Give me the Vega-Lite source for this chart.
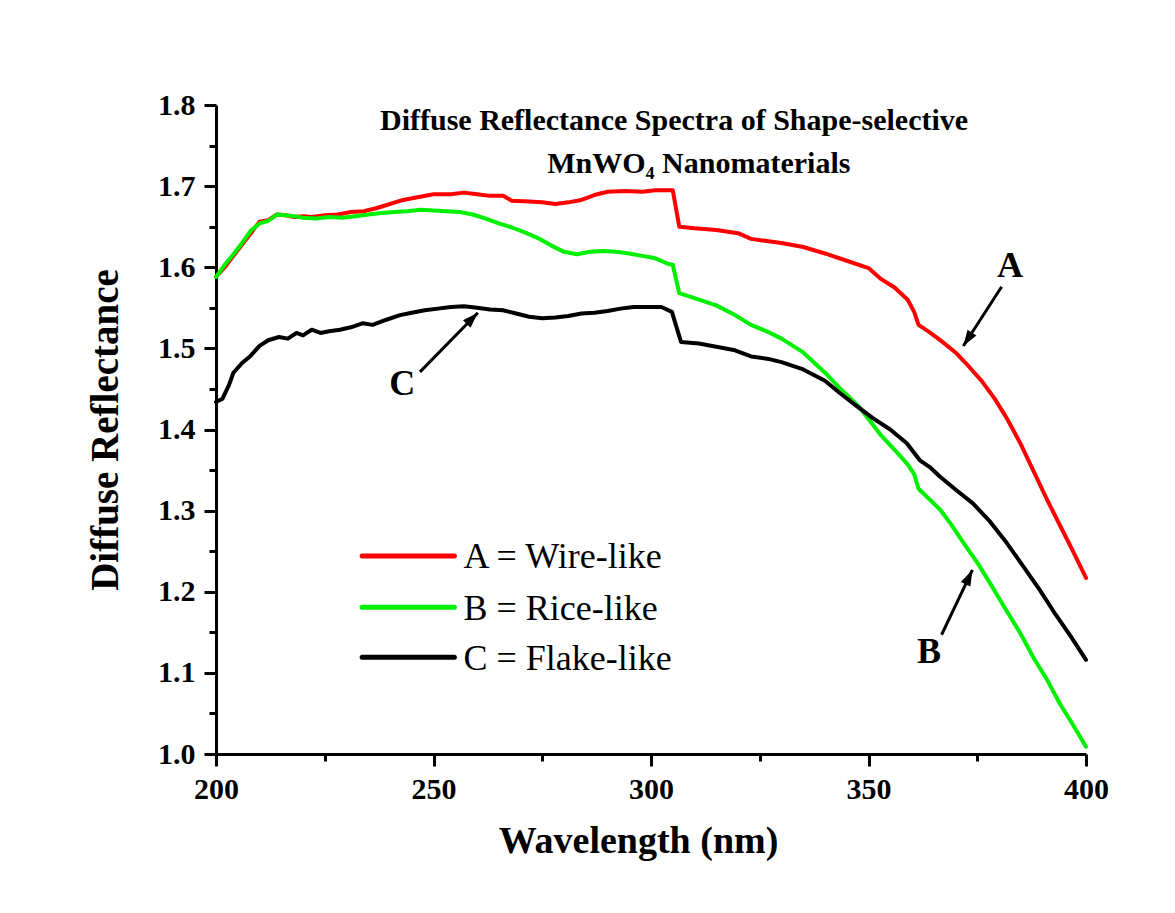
{
  "$schema": "https://vega.github.io/schema/vega-lite/v6.json",
  "width": 870,
  "height": 649,
  "autosize": "none",
  "padding": {"left": 216, "top": 105, "right": 89, "bottom": 159},
  "background": "white",
  "config": {"view": {"stroke": null}, "font": "Liberation Serif"},
  "datasets": {
    "spectra": [
      {"series": "A", "wavelength": 200, "reflectance": 1.588},
      {"series": "A", "wavelength": 202, "reflectance": 1.6},
      {"series": "A", "wavelength": 204, "reflectance": 1.614},
      {"series": "A", "wavelength": 206, "reflectance": 1.628},
      {"series": "A", "wavelength": 208, "reflectance": 1.642},
      {"series": "A", "wavelength": 210, "reflectance": 1.656},
      {"series": "A", "wavelength": 212, "reflectance": 1.658},
      {"series": "A", "wavelength": 214, "reflectance": 1.665},
      {"series": "A", "wavelength": 216, "reflectance": 1.664},
      {"series": "A", "wavelength": 218, "reflectance": 1.662},
      {"series": "A", "wavelength": 220, "reflectance": 1.663},
      {"series": "A", "wavelength": 222, "reflectance": 1.662},
      {"series": "A", "wavelength": 225, "reflectance": 1.664},
      {"series": "A", "wavelength": 228, "reflectance": 1.665},
      {"series": "A", "wavelength": 231, "reflectance": 1.668},
      {"series": "A", "wavelength": 234, "reflectance": 1.669},
      {"series": "A", "wavelength": 237, "reflectance": 1.673},
      {"series": "A", "wavelength": 240, "reflectance": 1.678},
      {"series": "A", "wavelength": 243, "reflectance": 1.683},
      {"series": "A", "wavelength": 246, "reflectance": 1.686},
      {"series": "A", "wavelength": 250, "reflectance": 1.69},
      {"series": "A", "wavelength": 254, "reflectance": 1.69},
      {"series": "A", "wavelength": 257, "reflectance": 1.692},
      {"series": "A", "wavelength": 260, "reflectance": 1.69},
      {"series": "A", "wavelength": 263, "reflectance": 1.688},
      {"series": "A", "wavelength": 266, "reflectance": 1.688},
      {"series": "A", "wavelength": 268, "reflectance": 1.682},
      {"series": "A", "wavelength": 272, "reflectance": 1.681},
      {"series": "A", "wavelength": 275, "reflectance": 1.68},
      {"series": "A", "wavelength": 278, "reflectance": 1.678},
      {"series": "A", "wavelength": 281, "reflectance": 1.68},
      {"series": "A", "wavelength": 284, "reflectance": 1.683},
      {"series": "A", "wavelength": 287, "reflectance": 1.689},
      {"series": "A", "wavelength": 290, "reflectance": 1.693},
      {"series": "A", "wavelength": 294, "reflectance": 1.694},
      {"series": "A", "wavelength": 298, "reflectance": 1.693},
      {"series": "A", "wavelength": 301, "reflectance": 1.695},
      {"series": "A", "wavelength": 305, "reflectance": 1.695},
      {"series": "A", "wavelength": 306.5, "reflectance": 1.65},
      {"series": "A", "wavelength": 310, "reflectance": 1.648},
      {"series": "A", "wavelength": 315, "reflectance": 1.646},
      {"series": "A", "wavelength": 320, "reflectance": 1.642},
      {"series": "A", "wavelength": 323, "reflectance": 1.635},
      {"series": "A", "wavelength": 327, "reflectance": 1.632},
      {"series": "A", "wavelength": 330, "reflectance": 1.63},
      {"series": "A", "wavelength": 335, "reflectance": 1.625},
      {"series": "A", "wavelength": 340, "reflectance": 1.617},
      {"series": "A", "wavelength": 345, "reflectance": 1.608},
      {"series": "A", "wavelength": 350, "reflectance": 1.599},
      {"series": "A", "wavelength": 353, "reflectance": 1.585},
      {"series": "A", "wavelength": 356, "reflectance": 1.575},
      {"series": "A", "wavelength": 359, "reflectance": 1.56},
      {"series": "A", "wavelength": 360.5, "reflectance": 1.545},
      {"series": "A", "wavelength": 361.5, "reflectance": 1.529},
      {"series": "A", "wavelength": 364, "reflectance": 1.52},
      {"series": "A", "wavelength": 367, "reflectance": 1.508},
      {"series": "A", "wavelength": 370, "reflectance": 1.495},
      {"series": "A", "wavelength": 373, "reflectance": 1.478},
      {"series": "A", "wavelength": 376, "reflectance": 1.46},
      {"series": "A", "wavelength": 379, "reflectance": 1.438},
      {"series": "A", "wavelength": 382, "reflectance": 1.412},
      {"series": "A", "wavelength": 385, "reflectance": 1.382},
      {"series": "A", "wavelength": 388, "reflectance": 1.348},
      {"series": "A", "wavelength": 391, "reflectance": 1.314},
      {"series": "A", "wavelength": 394, "reflectance": 1.282},
      {"series": "A", "wavelength": 397, "reflectance": 1.25},
      {"series": "A", "wavelength": 400, "reflectance": 1.217},
      {"series": "B", "wavelength": 200, "reflectance": 1.588},
      {"series": "B", "wavelength": 202, "reflectance": 1.603},
      {"series": "B", "wavelength": 204, "reflectance": 1.616},
      {"series": "B", "wavelength": 206, "reflectance": 1.63},
      {"series": "B", "wavelength": 208, "reflectance": 1.645},
      {"series": "B", "wavelength": 210, "reflectance": 1.654},
      {"series": "B", "wavelength": 212, "reflectance": 1.657},
      {"series": "B", "wavelength": 214, "reflectance": 1.665},
      {"series": "B", "wavelength": 216, "reflectance": 1.664},
      {"series": "B", "wavelength": 218, "reflectance": 1.663},
      {"series": "B", "wavelength": 220, "reflectance": 1.661},
      {"series": "B", "wavelength": 223, "reflectance": 1.66},
      {"series": "B", "wavelength": 226, "reflectance": 1.662},
      {"series": "B", "wavelength": 229, "reflectance": 1.661},
      {"series": "B", "wavelength": 232, "reflectance": 1.663},
      {"series": "B", "wavelength": 235, "reflectance": 1.665},
      {"series": "B", "wavelength": 238, "reflectance": 1.667},
      {"series": "B", "wavelength": 241, "reflectance": 1.668},
      {"series": "B", "wavelength": 244, "reflectance": 1.669},
      {"series": "B", "wavelength": 247, "reflectance": 1.671},
      {"series": "B", "wavelength": 250, "reflectance": 1.67},
      {"series": "B", "wavelength": 253, "reflectance": 1.669},
      {"series": "B", "wavelength": 256, "reflectance": 1.668},
      {"series": "B", "wavelength": 259, "reflectance": 1.665},
      {"series": "B", "wavelength": 262, "reflectance": 1.66},
      {"series": "B", "wavelength": 265, "reflectance": 1.654},
      {"series": "B", "wavelength": 268, "reflectance": 1.649},
      {"series": "B", "wavelength": 271, "reflectance": 1.643},
      {"series": "B", "wavelength": 274, "reflectance": 1.636},
      {"series": "B", "wavelength": 277, "reflectance": 1.627},
      {"series": "B", "wavelength": 280, "reflectance": 1.619},
      {"series": "B", "wavelength": 283, "reflectance": 1.616},
      {"series": "B", "wavelength": 286, "reflectance": 1.619},
      {"series": "B", "wavelength": 289, "reflectance": 1.62},
      {"series": "B", "wavelength": 292, "reflectance": 1.619},
      {"series": "B", "wavelength": 295, "reflectance": 1.617},
      {"series": "B", "wavelength": 298, "reflectance": 1.614},
      {"series": "B", "wavelength": 301, "reflectance": 1.611},
      {"series": "B", "wavelength": 304, "reflectance": 1.604},
      {"series": "B", "wavelength": 305, "reflectance": 1.603},
      {"series": "B", "wavelength": 306.5, "reflectance": 1.568},
      {"series": "B", "wavelength": 310, "reflectance": 1.562},
      {"series": "B", "wavelength": 315, "reflectance": 1.553},
      {"series": "B", "wavelength": 319, "reflectance": 1.542},
      {"series": "B", "wavelength": 323, "reflectance": 1.529},
      {"series": "B", "wavelength": 327, "reflectance": 1.52},
      {"series": "B", "wavelength": 330, "reflectance": 1.512},
      {"series": "B", "wavelength": 335, "reflectance": 1.495},
      {"series": "B", "wavelength": 340, "reflectance": 1.47},
      {"series": "B", "wavelength": 343.4, "reflectance": 1.451},
      {"series": "B", "wavelength": 345, "reflectance": 1.443},
      {"series": "B", "wavelength": 348, "reflectance": 1.427},
      {"series": "B", "wavelength": 350, "reflectance": 1.413},
      {"series": "B", "wavelength": 353, "reflectance": 1.392},
      {"series": "B", "wavelength": 356, "reflectance": 1.375},
      {"series": "B", "wavelength": 359, "reflectance": 1.357},
      {"series": "B", "wavelength": 360.5, "reflectance": 1.345},
      {"series": "B", "wavelength": 361.5, "reflectance": 1.327},
      {"series": "B", "wavelength": 364, "reflectance": 1.314},
      {"series": "B", "wavelength": 366.5, "reflectance": 1.301},
      {"series": "B", "wavelength": 369, "reflectance": 1.283},
      {"series": "B", "wavelength": 372, "reflectance": 1.259},
      {"series": "B", "wavelength": 375, "reflectance": 1.236},
      {"series": "B", "wavelength": 378, "reflectance": 1.21},
      {"series": "B", "wavelength": 381, "reflectance": 1.183},
      {"series": "B", "wavelength": 385, "reflectance": 1.148},
      {"series": "B", "wavelength": 388, "reflectance": 1.118},
      {"series": "B", "wavelength": 391, "reflectance": 1.092},
      {"series": "B", "wavelength": 394, "reflectance": 1.062},
      {"series": "B", "wavelength": 397, "reflectance": 1.036},
      {"series": "B", "wavelength": 400, "reflectance": 1.009},
      {"series": "C", "wavelength": 200, "reflectance": 1.434},
      {"series": "C", "wavelength": 201.5, "reflectance": 1.438},
      {"series": "C", "wavelength": 203, "reflectance": 1.455},
      {"series": "C", "wavelength": 204, "reflectance": 1.47},
      {"series": "C", "wavelength": 206, "reflectance": 1.482},
      {"series": "C", "wavelength": 208, "reflectance": 1.491},
      {"series": "C", "wavelength": 210, "reflectance": 1.503},
      {"series": "C", "wavelength": 212, "reflectance": 1.51},
      {"series": "C", "wavelength": 214.5, "reflectance": 1.514},
      {"series": "C", "wavelength": 216.5, "reflectance": 1.512},
      {"series": "C", "wavelength": 218.5, "reflectance": 1.519},
      {"series": "C", "wavelength": 220, "reflectance": 1.516},
      {"series": "C", "wavelength": 222, "reflectance": 1.523},
      {"series": "C", "wavelength": 224, "reflectance": 1.519},
      {"series": "C", "wavelength": 226, "reflectance": 1.521},
      {"series": "C", "wavelength": 228.5, "reflectance": 1.523},
      {"series": "C", "wavelength": 231, "reflectance": 1.526},
      {"series": "C", "wavelength": 233.8, "reflectance": 1.531},
      {"series": "C", "wavelength": 236, "reflectance": 1.529},
      {"series": "C", "wavelength": 239, "reflectance": 1.535},
      {"series": "C", "wavelength": 242.3, "reflectance": 1.541},
      {"series": "C", "wavelength": 245, "reflectance": 1.544},
      {"series": "C", "wavelength": 248, "reflectance": 1.547},
      {"series": "C", "wavelength": 251, "reflectance": 1.549},
      {"series": "C", "wavelength": 254, "reflectance": 1.551},
      {"series": "C", "wavelength": 257, "reflectance": 1.552},
      {"series": "C", "wavelength": 260, "reflectance": 1.55},
      {"series": "C", "wavelength": 263, "reflectance": 1.548},
      {"series": "C", "wavelength": 266, "reflectance": 1.547},
      {"series": "C", "wavelength": 269, "reflectance": 1.543},
      {"series": "C", "wavelength": 272, "reflectance": 1.539},
      {"series": "C", "wavelength": 275, "reflectance": 1.537},
      {"series": "C", "wavelength": 278, "reflectance": 1.538},
      {"series": "C", "wavelength": 281, "reflectance": 1.54},
      {"series": "C", "wavelength": 284, "reflectance": 1.543},
      {"series": "C", "wavelength": 287, "reflectance": 1.544},
      {"series": "C", "wavelength": 290, "reflectance": 1.546},
      {"series": "C", "wavelength": 293, "reflectance": 1.549},
      {"series": "C", "wavelength": 296, "reflectance": 1.551},
      {"series": "C", "wavelength": 299, "reflectance": 1.551},
      {"series": "C", "wavelength": 302.4, "reflectance": 1.551},
      {"series": "C", "wavelength": 304.8, "reflectance": 1.545},
      {"series": "C", "wavelength": 306.9, "reflectance": 1.508},
      {"series": "C", "wavelength": 311, "reflectance": 1.506},
      {"series": "C", "wavelength": 315, "reflectance": 1.502},
      {"series": "C", "wavelength": 319, "reflectance": 1.498},
      {"series": "C", "wavelength": 323, "reflectance": 1.49},
      {"series": "C", "wavelength": 327, "reflectance": 1.487},
      {"series": "C", "wavelength": 330, "reflectance": 1.483},
      {"series": "C", "wavelength": 335, "reflectance": 1.474},
      {"series": "C", "wavelength": 340, "reflectance": 1.46},
      {"series": "C", "wavelength": 343.4, "reflectance": 1.445},
      {"series": "C", "wavelength": 347, "reflectance": 1.43},
      {"series": "C", "wavelength": 351, "reflectance": 1.414},
      {"series": "C", "wavelength": 355, "reflectance": 1.4},
      {"series": "C", "wavelength": 358.8, "reflectance": 1.383},
      {"series": "C", "wavelength": 361.8, "reflectance": 1.362},
      {"series": "C", "wavelength": 364, "reflectance": 1.354},
      {"series": "C", "wavelength": 366.4, "reflectance": 1.342},
      {"series": "C", "wavelength": 370, "reflectance": 1.326},
      {"series": "C", "wavelength": 374, "reflectance": 1.309},
      {"series": "C", "wavelength": 378, "reflectance": 1.286},
      {"series": "C", "wavelength": 381.8, "reflectance": 1.26},
      {"series": "C", "wavelength": 385.5, "reflectance": 1.232},
      {"series": "C", "wavelength": 389.4, "reflectance": 1.202},
      {"series": "C", "wavelength": 393, "reflectance": 1.172},
      {"series": "C", "wavelength": 396.5, "reflectance": 1.145},
      {"series": "C", "wavelength": 400, "reflectance": 1.116}
    ],
    "legend": [
      {"series": "A", "label": "A = Wire-like", "wavelength": 233.6, "wavelength2": 254.8, "labelWavelength": 256.9, "reflectance": 1.2441, "labelReflectance": 1.2289},
      {"series": "B", "label": "B = Rice-like", "wavelength": 233.6, "wavelength2": 254.8, "labelWavelength": 256.9, "reflectance": 1.1808, "labelReflectance": 1.165},
      {"series": "C", "label": "C = Flake-like", "wavelength": 233.6, "wavelength2": 254.8, "labelWavelength": 256.9, "reflectance": 1.1192, "labelReflectance": 1.1035}
    ],
    "arrows": [
      {"label": "A", "wavelength": 380.6, "reflectance": 1.576, "wavelength2": 371.8, "reflectance2": 1.503, "labelWavelength": 382.5, "labelReflectance": 1.5883},
      {"label": "B", "wavelength": 366.8, "reflectance": 1.147, "wavelength2": 373.9, "reflectance2": 1.227, "labelWavelength": 363.9, "labelReflectance": 1.1118},
      {"label": "C", "wavelength": 246.9, "reflectance": 1.471, "wavelength2": 260.2, "reflectance2": 1.544, "labelWavelength": 242.8, "labelReflectance": 1.4425}
    ],
    "titles": [
      {"text": "Diffuse Reflectance Spectra of Shape-selective", "wavelength": 305.3, "reflectance": 1.7697},
      {"text": "MnWO₄ Nanomaterials", "wavelength": 311, "reflectance": 1.7158}
    ]
  },
  "encoding": {
    "x": {
      "field": "wavelength",
      "type": "quantitative",
      "scale": {"domain": [200, 400], "nice": false, "zero": false},
      "axis": {
        "title": "Wavelength (nm)",
        "values": [200, 225, 250, 275, 300, 325, 350, 375, 400],
        "labelExpr": "datum.value % 50 === 0 ? datum.label : ''",
        "tickSize": {"condition": {"test": "datum.value % 50 === 0", "value": 12}, "value": 7},
        "labelFlush": false,
        "labelOverlap": false,
        "grid": false,
        "domainColor": "black",
        "domainWidth": 3,
        "tickColor": "black",
        "tickWidth": 3,
        "labelFont": "Liberation Serif",
        "labelFontSize": 30,
        "labelFontWeight": "bold",
        "labelColor": "black",
        "labelPadding": 8,
        "titleFont": "Liberation Serif",
        "titleFontSize": 38,
        "titleFontWeight": "bold",
        "titleColor": "black",
        "titlePadding": 18,
        "titleX": 422
      }
    },
    "y": {
      "field": "reflectance",
      "type": "quantitative",
      "scale": {"domain": [1.0, 1.8], "nice": false, "zero": false},
      "axis": {
        "title": "Diffuse Reflectance",
        "values": [1.0, 1.05, 1.1, 1.15, 1.2, 1.25, 1.3, 1.35, 1.4, 1.45, 1.5, 1.55, 1.6, 1.65, 1.7, 1.75, 1.8],
        "format": ".1f",
        "labelExpr": "round(datum.value * 20) % 2 === 0 ? datum.label : ''",
        "tickSize": {"condition": {"test": "round(datum.value * 20) % 2 === 0", "value": 12}, "value": 7},
        "labelFlush": false,
        "labelOverlap": false,
        "grid": false,
        "domainColor": "black",
        "domainWidth": 3,
        "tickColor": "black",
        "tickWidth": 3,
        "labelFont": "Liberation Serif",
        "labelFontSize": 30,
        "labelFontWeight": "bold",
        "labelColor": "black",
        "labelPadding": 9,
        "titleFont": "Liberation Serif",
        "titleFontSize": 39,
        "titleFontWeight": "bold",
        "titleColor": "black",
        "titlePadding": 32
      }
    }
  },
  "layer": [
    {
      "data": {"name": "spectra"},
      "mark": {"type": "line", "strokeWidth": 4, "strokeJoin": "round", "strokeCap": "round"},
      "encoding": {
        "color": {
          "field": "series",
          "type": "nominal",
          "scale": {"domain": ["A", "B", "C"], "range": ["#ff0000", "#00f000", "#000000"]},
          "legend": null
        }
      }
    },
    {
      "data": {"name": "legend"},
      "mark": {"type": "rule", "strokeWidth": 5, "strokeCap": "round"},
      "encoding": {
        "x2": {"field": "wavelength2"},
        "color": {"field": "series", "type": "nominal", "legend": null}
      }
    },
    {
      "data": {"name": "legend"},
      "mark": {"type": "text", "align": "left", "baseline": "alphabetic", "font": "Liberation Serif", "fontSize": 36, "color": "black"},
      "encoding": {
        "x": {"field": "labelWavelength", "type": "quantitative"},
        "y": {"field": "labelReflectance", "type": "quantitative"},
        "text": {"field": "label"}
      }
    },
    {
      "data": {"name": "arrows"},
      "mark": {"type": "rule", "strokeWidth": 3, "color": "black"},
      "encoding": {
        "x2": {"field": "wavelength2"},
        "y2": {"field": "reflectance2"}
      }
    },
    {
      "data": {"name": "arrows"},
      "transform": [{"filter": "datum.label === 'A'"}],
      "mark": {"type": "point", "shape": "M0,0L-0.4,1.2L0.4,1.2Z", "size": 700, "filled": true, "color": "black", "opacity": 1, "angle": 213},
      "encoding": {
        "x": {"field": "wavelength2", "type": "quantitative"},
        "y": {"field": "reflectance2", "type": "quantitative"}
      }
    },
    {
      "data": {"name": "arrows"},
      "transform": [{"filter": "datum.label === 'B'"}],
      "mark": {"type": "point", "shape": "M0,0L-0.4,1.2L0.4,1.2Z", "size": 700, "filled": true, "color": "black", "opacity": 1, "angle": 25.5},
      "encoding": {
        "x": {"field": "wavelength2", "type": "quantitative"},
        "y": {"field": "reflectance2", "type": "quantitative"}
      }
    },
    {
      "data": {"name": "arrows"},
      "transform": [{"filter": "datum.label === 'C'"}],
      "mark": {"type": "point", "shape": "M0,0L-0.4,1.2L0.4,1.2Z", "size": 700, "filled": true, "color": "black", "opacity": 1, "angle": 44.5},
      "encoding": {
        "x": {"field": "wavelength2", "type": "quantitative"},
        "y": {"field": "reflectance2", "type": "quantitative"}
      }
    },
    {
      "data": {"name": "arrows"},
      "mark": {"type": "text", "align": "center", "baseline": "alphabetic", "font": "Liberation Serif", "fontSize": 36, "fontWeight": "bold", "color": "black"},
      "encoding": {
        "x": {"field": "labelWavelength", "type": "quantitative"},
        "y": {"field": "labelReflectance", "type": "quantitative"},
        "text": {"field": "label"}
      }
    },
    {
      "data": {"name": "titles"},
      "mark": {"type": "text", "align": "center", "baseline": "alphabetic", "font": "Liberation Serif", "fontSize": 30, "fontWeight": "bold", "color": "black"},
      "encoding": {
        "text": {"field": "text"}
      }
    }
  ]
}
